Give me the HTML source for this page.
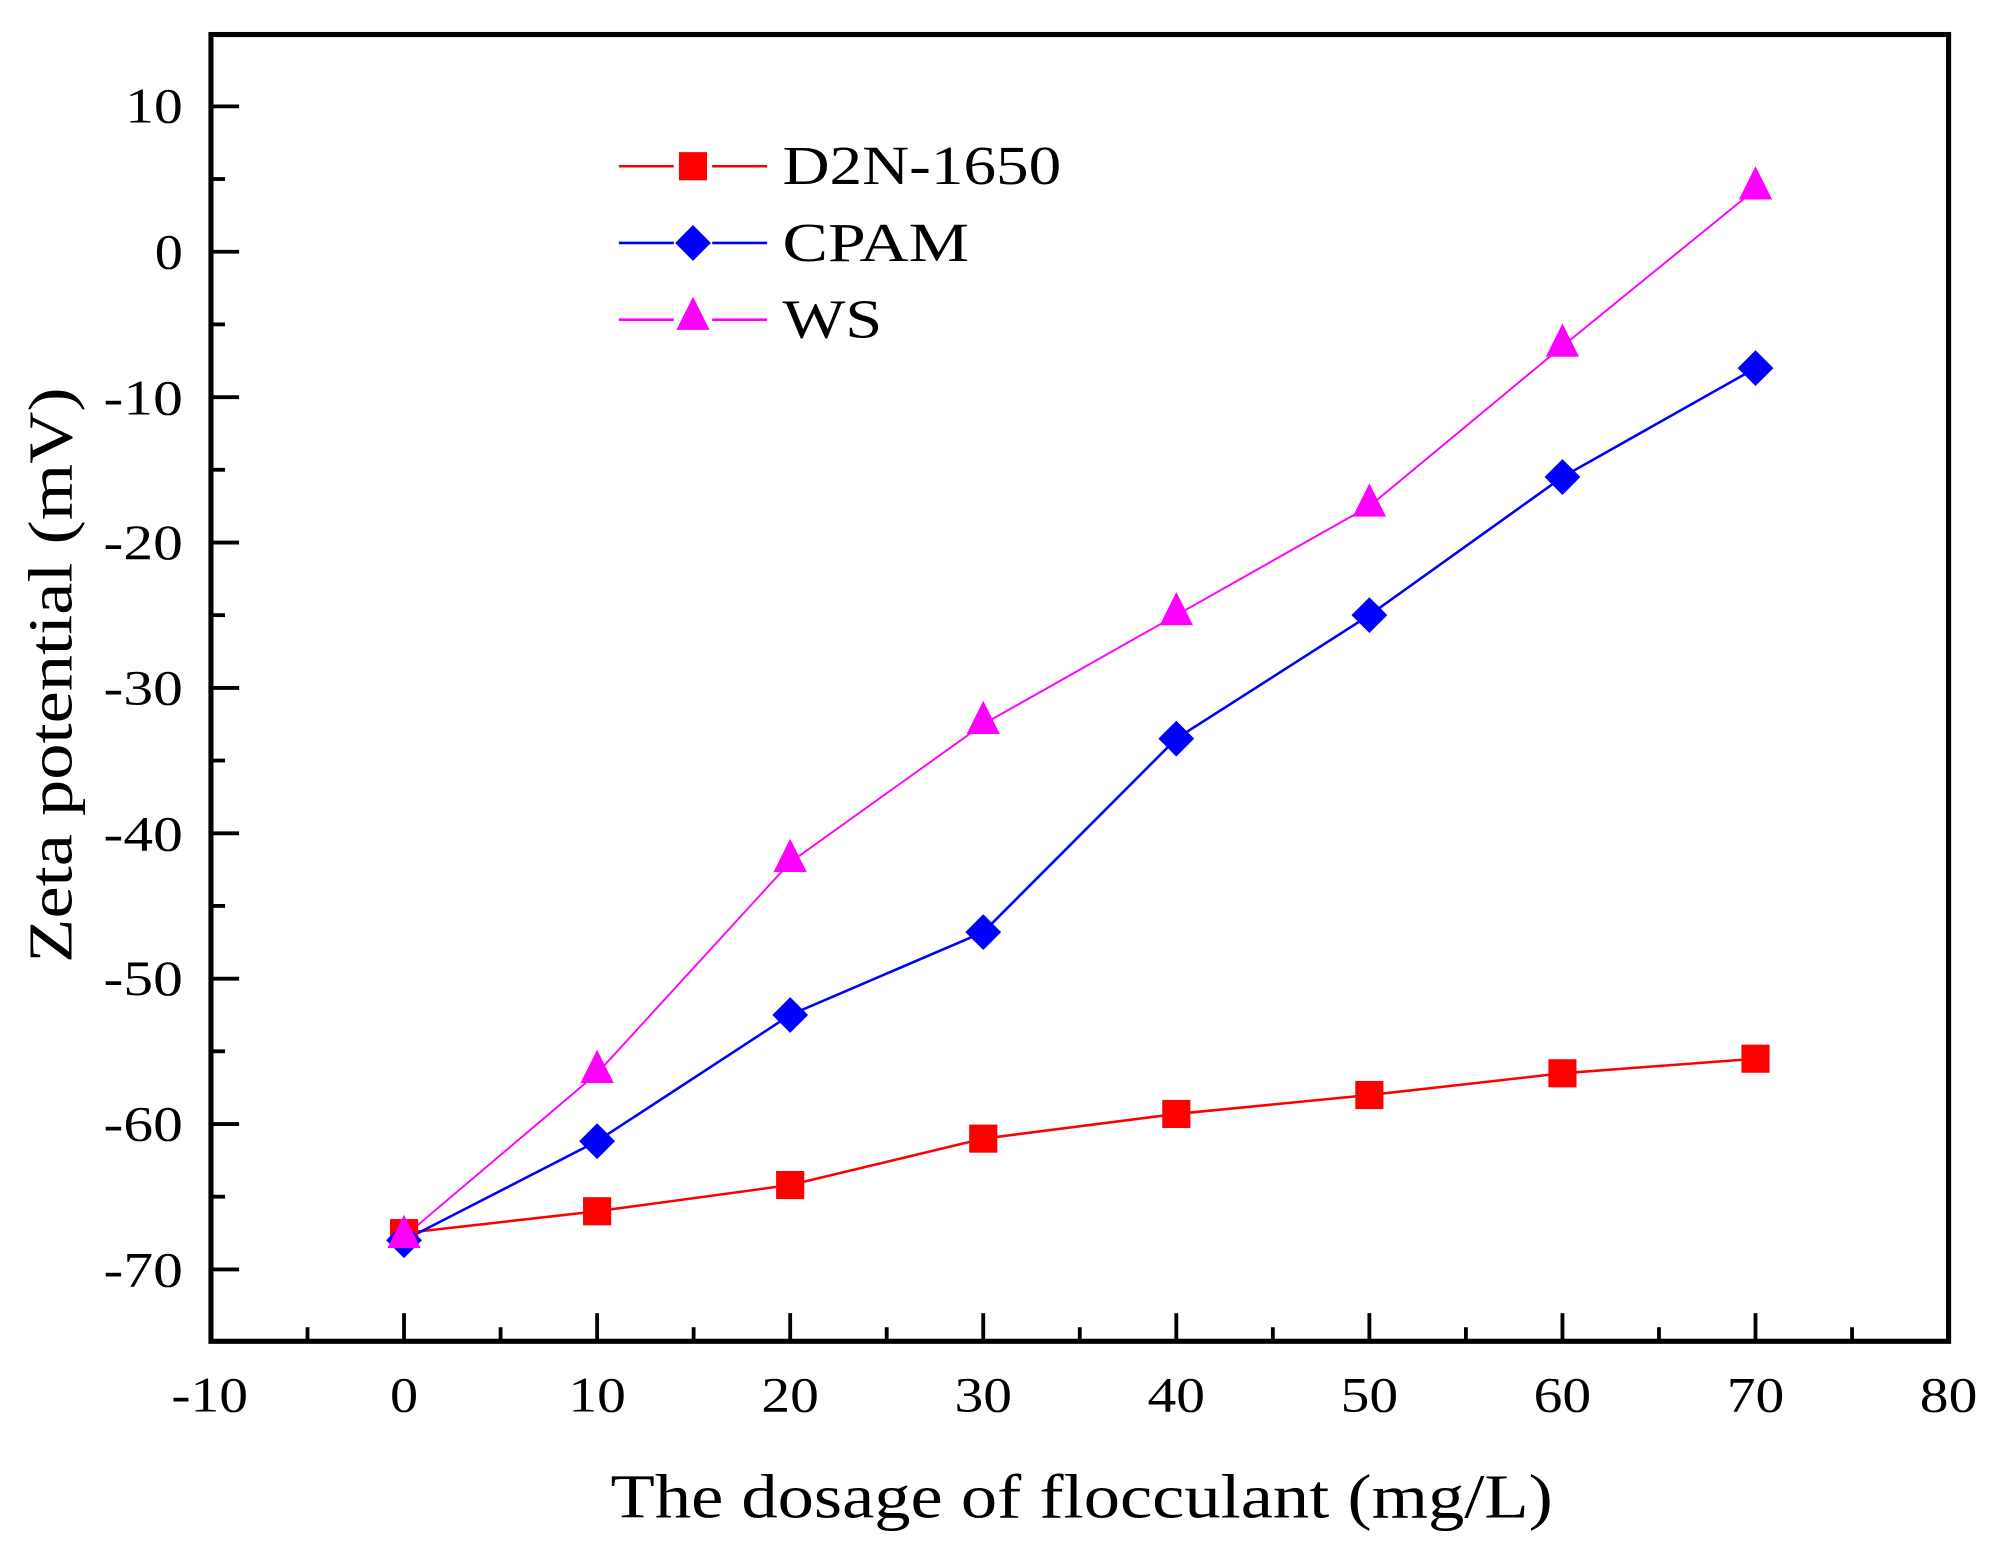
<!DOCTYPE html>
<html><head><style>html,body{margin:0;padding:0;background:#fff;}svg{display:block;}</style></head>
<body>
<svg width="2001" height="1557" viewBox="0 0 1565 1217.7" preserveAspectRatio="none" xmlns="http://www.w3.org/2000/svg" font-family="Liberation Serif, serif">
<defs>
<g id="sq"><rect x="-11" y="-11" width="22" height="22" fill="#ff0000"/></g>
<g id="di"><polygon points="0,-14 14,0 0,14 -14,0" fill="#0000ff"/></g>
<g id="tr"><polygon points="0,-15 13,11 -13,11" fill="#ff00ff"/></g>
</defs>
<rect x="165" y="27" width="1359" height="1022" fill="none" stroke="#000" stroke-width="4"/>
<g stroke="#000" stroke-width="3">
<line x1="165" y1="83.2" x2="187" y2="83.2"/><line x1="165" y1="196.9" x2="187" y2="196.9"/>
<line x1="165" y1="310.6" x2="187" y2="310.6"/><line x1="165" y1="424.3" x2="187" y2="424.3"/>
<line x1="165" y1="538" x2="187" y2="538"/><line x1="165" y1="651.7" x2="187" y2="651.7"/>
<line x1="165" y1="765.4" x2="187" y2="765.4"/><line x1="165" y1="879.1" x2="187" y2="879.1"/>
<line x1="165" y1="992.8" x2="187" y2="992.8"/>
<line x1="165" y1="140" x2="176" y2="140"/><line x1="165" y1="253.7" x2="176" y2="253.7"/>
<line x1="165" y1="367.4" x2="176" y2="367.4"/><line x1="165" y1="481.1" x2="176" y2="481.1"/>
<line x1="165" y1="594.8" x2="176" y2="594.8"/><line x1="165" y1="708.5" x2="176" y2="708.5"/>
<line x1="165" y1="822.2" x2="176" y2="822.2"/><line x1="165" y1="935.9" x2="176" y2="935.9"/>
<line x1="316" y1="1049" x2="316" y2="1027"/><line x1="467" y1="1049" x2="467" y2="1027"/>
<line x1="618" y1="1049" x2="618" y2="1027"/><line x1="769" y1="1049" x2="769" y2="1027"/>
<line x1="920" y1="1049" x2="920" y2="1027"/><line x1="1071" y1="1049" x2="1071" y2="1027"/>
<line x1="1222" y1="1049" x2="1222" y2="1027"/><line x1="1373" y1="1049" x2="1373" y2="1027"/>
<line x1="240.5" y1="1049" x2="240.5" y2="1038"/><line x1="391.5" y1="1049" x2="391.5" y2="1038"/>
<line x1="542.5" y1="1049" x2="542.5" y2="1038"/><line x1="693.5" y1="1049" x2="693.5" y2="1038"/>
<line x1="844.5" y1="1049" x2="844.5" y2="1038"/><line x1="995.5" y1="1049" x2="995.5" y2="1038"/>
<line x1="1146.5" y1="1049" x2="1146.5" y2="1038"/><line x1="1297.5" y1="1049" x2="1297.5" y2="1038"/>
<line x1="1448.5" y1="1049" x2="1448.5" y2="1038"/>
</g>
<g font-size="39" text-anchor="end" fill="#000" lengthAdjust="spacingAndGlyphs">
<text x="143" y="96" textLength="45" lengthAdjust="spacingAndGlyphs">10</text>
<text x="143" y="210" textLength="22" lengthAdjust="spacingAndGlyphs">0</text>
<text x="143" y="324" textLength="62" lengthAdjust="spacingAndGlyphs">-10</text>
<text x="143" y="437" textLength="62" lengthAdjust="spacingAndGlyphs">-20</text>
<text x="143" y="551" textLength="62" lengthAdjust="spacingAndGlyphs">-30</text>
<text x="143" y="665" textLength="62" lengthAdjust="spacingAndGlyphs">-40</text>
<text x="143" y="778" textLength="62" lengthAdjust="spacingAndGlyphs">-50</text>
<text x="143" y="892" textLength="62" lengthAdjust="spacingAndGlyphs">-60</text>
<text x="143" y="1006" textLength="62" lengthAdjust="spacingAndGlyphs">-70</text>
</g>
<g font-size="39" text-anchor="middle" fill="#000">
<text x="164" y="1104" textLength="60" lengthAdjust="spacingAndGlyphs">-10</text>
<text x="316" y="1104" textLength="22" lengthAdjust="spacingAndGlyphs">0</text>
<text x="467" y="1104" textLength="45" lengthAdjust="spacingAndGlyphs">10</text>
<text x="618" y="1104" textLength="45" lengthAdjust="spacingAndGlyphs">20</text>
<text x="769" y="1104" textLength="45" lengthAdjust="spacingAndGlyphs">30</text>
<text x="920" y="1104" textLength="45" lengthAdjust="spacingAndGlyphs">40</text>
<text x="1071" y="1104" textLength="45" lengthAdjust="spacingAndGlyphs">50</text>
<text x="1222" y="1104" textLength="45" lengthAdjust="spacingAndGlyphs">60</text>
<text x="1373" y="1104" textLength="45" lengthAdjust="spacingAndGlyphs">70</text>
<text x="1524" y="1104" textLength="45" lengthAdjust="spacingAndGlyphs">80</text>
</g>
<text x="846" y="1187" font-size="49" text-anchor="middle" textLength="737" lengthAdjust="spacingAndGlyphs">The dosage of flocculant (mg/L)</text>
<text transform="translate(56,528) rotate(-90)" font-size="49" text-anchor="middle" textLength="450" lengthAdjust="spacingAndGlyphs">Zeta potential (mV)</text>
<polyline fill="none" stroke="#ff0000" stroke-width="2" points="316,964.4 467,947.3 618,926.8 769,890.5 920,871.2 1071,856.4 1222,839.4 1373,828"/>
<polyline fill="none" stroke="#0000ff" stroke-width="2" points="316,970 467,892.5 618,793.8 769,729 920,577.7 1071,481.1 1222,373.1 1373,287.9"/>
<polyline fill="none" stroke="#ff00ff" stroke-width="1.5" points="316,967.2 467,839.4 618,674.4 769,566.4 920,481.1 1071,395.9 1222,270.8 1373,148"/>
<g>
<use href="#sq" x="316" y="964.4"/><use href="#sq" x="467" y="947.3"/><use href="#sq" x="618" y="926.8"/><use href="#sq" x="769" y="890.5"/>
<use href="#sq" x="920" y="871.2"/><use href="#sq" x="1071" y="856.4"/><use href="#sq" x="1222" y="839.4"/><use href="#sq" x="1373" y="828"/>
<use href="#di" x="316" y="970"/><use href="#di" x="467" y="892.5"/><use href="#di" x="618" y="793.8"/><use href="#di" x="769" y="729"/>
<use href="#di" x="920" y="577.7"/><use href="#di" x="1071" y="481.1"/><use href="#di" x="1222" y="373.1"/><use href="#di" x="1373" y="287.9"/>
<use href="#tr" x="316" y="965"/><use href="#tr" x="467" y="836"/><use href="#tr" x="618" y="671"/><use href="#tr" x="769" y="563"/>
<use href="#tr" x="920" y="478"/><use href="#tr" x="1071" y="393"/><use href="#tr" x="1222" y="268"/><use href="#tr" x="1373" y="145"/>
</g>
<g stroke-width="2">
<line x1="484" y1="130" x2="527" y2="130" stroke="#ff0000"/><line x1="557" y1="130" x2="600" y2="130" stroke="#ff0000"/>
<line x1="484" y1="190" x2="527" y2="190" stroke="#0000ff"/><line x1="557" y1="190" x2="600" y2="190" stroke="#0000ff"/>
<line x1="484" y1="250" x2="527" y2="250" stroke="#ff00ff"/><line x1="557" y1="250" x2="600" y2="250" stroke="#ff00ff"/>
</g>
<use href="#sq" x="542" y="130"/><use href="#di" x="542" y="190"/><use href="#tr" x="542" y="247"/>
<g font-size="43" fill="#000">
<text x="612" y="144" textLength="218" lengthAdjust="spacingAndGlyphs">D2N-1650</text>
<text x="612" y="204" textLength="146" lengthAdjust="spacingAndGlyphs">CPAM</text>
<text x="612" y="264" textLength="78" lengthAdjust="spacingAndGlyphs">WS</text>
</g>
</svg>
</body></html>
